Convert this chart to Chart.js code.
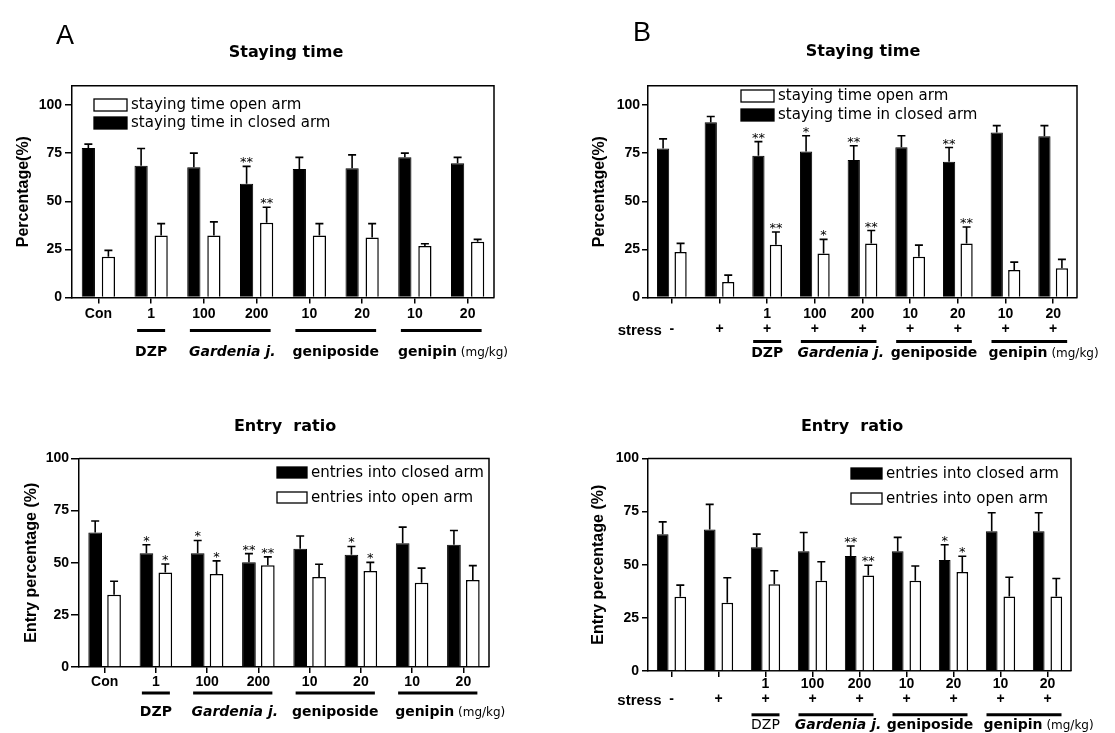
<!DOCTYPE html>
<html>
<head>
<meta charset="utf-8">
<script src="https://cdn.jsdelivr.net/npm/chart.js@4.4.0/dist/chart.umd.min.js"></script>
<style>
  html, body { margin: 0; padding: 0; background: #ffffff; }
  body { width: 1115px; height: 733px; position: relative; overflow: hidden; }
  canvas { position: absolute; left: 0; top: 0; }
</style>
</head>
<body>
<canvas id="cA1" width="1115" height="733"></canvas>
<canvas id="cB1" width="1115" height="733"></canvas>
<canvas id="cA2" width="1115" height="733"></canvas>
<canvas id="cB2" width="1115" height="733"></canvas>
<script>
// ---------------- DATA ----------------
const doseA = ['Con', '1', '100', '200', '10', '20', '10', '20'];
const doseB = ['', '', '1', '100', '200', '10', '20', '10', '20'];
const stressB = ['-', '+', '+', '+', '+', '+', '+', '+', '+'];

const groupNames = ['DZP', 'Gardenia j.', 'geniposide', 'genipin'];
const groupStartA = [1, 2, 4, 6];
const groupEndA = [1, 3, 5, 7];
const groupStartB = [2, 3, 5, 7];
const groupEndB = [2, 4, 6, 8];
const unitLabel = '(mg/kg)';

// Staying time, panel A
const stayA_closed = [77.6, 68.4, 67.6, 59.1, 66.7, 67.2, 72.8, 69.8];
const stayA_closedSem = [2.1, 9.0, 7.4, 9.0, 6.1, 6.9, 2.2, 3.0];
const stayA_open = [21.2, 32.2, 32.2, 38.8, 32.2, 31.2, 26.7, 29.0];
const stayA_openSem = [3.3, 6.2, 7.1, 8.1, 6.2, 7.2, 1.2, 1.2];
const stayA_closedSig = ['', '', '', '**', '', '', '', ''];
const stayA_openSig = ['', '', '', '**', '', '', '', ''];

// Staying time, panel B
const stayB_closed = [77.4, 91.0, 73.6, 75.9, 71.4, 78.1, 70.5, 85.7, 83.8];
const stayB_closedSem = [5.0, 3.0, 7.4, 8.1, 7.4, 5.9, 7.4, 3.6, 5.5];
const stayB_open = [23.6, 8.1, 27.4, 22.9, 28.1, 21.2, 28.1, 14.3, 15.2];
const stayB_openSem = [4.5, 3.5, 6.6, 7.3, 6.7, 6.0, 8.5, 4.1, 4.6];
const stayB_closedSig = ['', '', '**', '*', '**', '', '**', '', ''];
const stayB_openSig = ['', '', '**', '*', '**', '', '**', '', ''];

// Entry ratio, panel A
const entryA_closed = [64.5, 54.6, 54.6, 50.2, 56.7, 53.8, 59.4, 58.6];
const entryA_closedSem = [5.5, 4.0, 6.1, 4.2, 6.1, 4.0, 7.7, 6.9];
const entryA_open = [34.7, 45.3, 44.6, 48.8, 43.2, 46.1, 40.4, 41.7];
const entryA_openSem = [6.4, 4.1, 6.3, 4.0, 6.1, 4.1, 7.0, 6.9];
const entryA_closedSig = ['', '*', '*', '**', '', '*', '', ''];
const entryA_openSig = ['', '*', '*', '**', '', '*', '', ''];

// Entry ratio, panel B
const entryB_closed = [64.4, 66.6, 58.2, 56.3, 54.1, 56.3, 52.2, 65.8, 65.8];
const entryB_closedSem = [5.8, 11.8, 6.2, 8.9, 4.7, 6.6, 7.2, 8.7, 8.7];
const entryB_open = [35.0, 32.1, 40.8, 42.5, 45.0, 42.5, 46.6, 35.1, 35.1];
const entryB_openSem = [5.4, 11.8, 6.4, 8.9, 4.8, 6.9, 7.4, 9.0, 8.4];
const entryB_closedSig = ['', '', '', '', '**', '', '*', '', ''];
const entryB_openSig = ['', '', '', '', '**', '', '*', '', ''];

const yTicks = [0, 25, 50, 75, 100];

// ---------------- DRAWING ----------------
const W = 1115, H = 733;
const SANS = '"Liberation Sans", Arial, sans-serif';
const DJV = '"DejaVu Sans", Verdana, sans-serif';

function makeChart(cfg) {
  const a = cfg.area;
  const padLeft = cfg.titleX - 13.6;
  const yw = a.left - padLeft;
  const xh = 60;
  const padBottom = H - a.bottom - xh;
  const pxPerUnit = (a.bottom - cfg.y100) / 100;
  const top = a.bottom - cfg.yMax * pxPerUnit;

  const labels = cfg.stress ? cfg.dose.map((d, i) => [d, cfg.stress[i]]) : cfg.dose;

  const framePlugin = {
    id: 'frame',
    afterDraw(chart) {
      const ctx = chart.ctx, ca = chart.chartArea;
      ctx.save();
      ctx.strokeStyle = '#000'; ctx.lineWidth = 1.5;
      ctx.beginPath();
      ctx.moveTo(ca.left, ca.top); ctx.lineTo(ca.right, ca.top); ctx.lineTo(ca.right, ca.bottom);
      ctx.stroke();
      ctx.restore();
    }
  };

  const errorPlugin = {
    id: 'errbars',
    afterDatasetsDraw(chart) {
      const ctx = chart.ctx, ys = chart.scales.y;
      ctx.save();
      ctx.strokeStyle = '#000'; ctx.lineWidth = 1.6; ctx.fillStyle = '#000';
      ctx.font = '13px ' + DJV; ctx.textAlign = 'center'; ctx.textBaseline = 'alphabetic';
      chart.data.datasets.forEach((d, di) => {
        const meta = chart.getDatasetMeta(di);
        meta.data.forEach((bar, i) => {
          const yt = ys.getPixelForValue(d.data[i] + d.sem[i]);
          ctx.beginPath();
          ctx.moveTo(bar.x, bar.y); ctx.lineTo(bar.x, yt);
          ctx.moveTo(bar.x - 4, yt); ctx.lineTo(bar.x + 4, yt);
          ctx.stroke();
          if (d.sig[i]) ctx.fillText(d.sig[i], bar.x, yt + cfg.starDy);
        });
      });
      ctx.restore();
    }
  };

  const legendPlugin = {
    id: 'boxlegend',
    afterDraw(chart) {
      const ctx = chart.ctx, L = cfg.legend;
      ctx.save();
      ctx.font = '15px ' + DJV; ctx.textBaseline = 'middle'; ctx.textAlign = 'left';
      L.order.forEach((di, k) => {
        const d = chart.data.datasets[di];
        const y = L.y + k * L.gap;
        ctx.fillStyle = d.backgroundColor;
        ctx.fillRect(L.x, y, L.w, L.h);
        ctx.strokeStyle = '#000'; ctx.lineWidth = 1.3;
        ctx.strokeRect(L.x, y, L.w, L.h);
        ctx.fillStyle = '#000';
        ctx.fillText(d.label, L.x + L.w + 4, y + L.h / 2 + 0.5);
      });
      ctx.restore();
    }
  };

  const groupPlugin = {
    id: 'groups',
    afterDraw(chart) {
      const ctx = chart.ctx, xs = chart.scales.x, ca = chart.chartArea, g = cfg.groups;
      ctx.save();
      ctx.fillStyle = '#000'; ctx.strokeStyle = '#000';
      cfg.groupStart.forEach((s, k) => {
        const x0 = xs.getPixelForValue(s) - 14;
        const x1 = xs.getPixelForValue(cfg.groupEnd[k]) + 14;
        const yl = ca.bottom + g.lineDy;
        ctx.lineWidth = 3;
        ctx.beginPath(); ctx.moveTo(x0, yl); ctx.lineTo(x1, yl); ctx.stroke();
        const yb = ca.bottom + g.labelDy;
        const name = groupNames[k];
        ctx.textBaseline = 'alphabetic';
        if (k === 0) {
          ctx.font = (g.dzpRegular ? '' : 'bold ') + '14px ' + DJV;
          ctx.textAlign = 'center';
          ctx.fillText(name, (x0 + x1) / 2, yb);
        } else if (k === 1) {
          ctx.font = 'italic bold 14px ' + DJV;
          ctx.textAlign = 'center';
          ctx.fillText(name, (x0 + x1) / 2 + 2, yb);
        } else if (k === 2) {
          ctx.font = 'bold 14px ' + DJV;
          ctx.textAlign = 'center';
          ctx.fillText(name, (x0 + x1) / 2, yb);
        } else {
          ctx.font = 'bold 14px ' + DJV;
          ctx.textAlign = 'left';
          ctx.fillText(name, x0 - 3, yb);
          const w = ctx.measureText(name).width;
          ctx.font = '12px ' + DJV;
          ctx.fillText(' ' + unitLabel, x0 - 3 + w, yb);
        }
      });
      if (cfg.stress) {
        ctx.font = 'bold 15px ' + SANS;
        ctx.textAlign = 'right'; ctx.textBaseline = 'alphabetic';
        ctx.fillText('stress', xs.getPixelForValue(0) - 10, ca.bottom + g.stressDy);
      }
      ctx.restore();
    }
  };

  const textPlugin = {
    id: 'texts',
    afterDraw(chart) {
      const ctx = chart.ctx;
      ctx.save();
      ctx.fillStyle = '#000'; ctx.textBaseline = 'alphabetic';
      if (cfg.letter) {
        ctx.font = '27px ' + SANS; ctx.textAlign = 'left';
        ctx.fillText(cfg.letter.text, cfg.letter.x, cfg.letter.y);
      }
      ctx.font = 'bold 16px ' + DJV; ctx.textAlign = 'center';
      ctx.fillText(cfg.title.text, cfg.title.x, cfg.title.y);
      ctx.restore();
    }
  };

  return new Chart(document.getElementById(cfg.id), {
    type: 'bar',
    data: {
      labels: labels,
      datasets: [
        { label: cfg.closedLabel, data: cfg.closed, sem: cfg.closedSem, sig: cfg.closedSig,
          backgroundColor: '#000000', borderColor: '#000000', borderWidth: 1 },
        { label: cfg.openLabel, data: cfg.open, sem: cfg.openSem, sig: cfg.openSig,
          backgroundColor: '#ffffff', borderColor: '#000000', borderWidth: 1.5 }
      ]
    },
    options: {
      responsive: false, animation: false, devicePixelRatio: 1,
      events: [],
      layout: { padding: { left: padLeft, top: top, right: W - a.right, bottom: padBottom } },
      datasets: { bar: { categoryPercentage: cfg.catPct, barPercentage: cfg.barPct } },
      plugins: { legend: { display: false }, tooltip: { enabled: false }, title: { display: false } },
      scales: {
        x: {
          offset: true,
          grid: { display: true, offset: false, drawOnChartArea: false, drawTicks: true,
                  tickLength: 6, color: '#000', lineWidth: 1.5 },
          border: { display: true, color: '#000', width: 1.5 },
          ticks: { color: '#000', autoSkip: false, maxRotation: 0, padding: cfg.tickPad,
                   font: { family: SANS, size: 14, weight: 'bold', lineHeight: cfg.tickLH } },
          afterFit: s => { s.height = xh; }
        },
        y: {
          min: 0, max: cfg.yMax,
          afterBuildTicks: s => { s.ticks = yTicks.map(v => ({ value: v })); },
          ticks: { color: '#000', padding: cfg.yTickPad,
                   font: { family: SANS, size: 14, weight: 'bold' } },
          grid: { drawOnChartArea: false, drawTicks: true, tickLength: cfg.yTickLen, color: '#000', lineWidth: 1.5 },
          border: { display: true, color: '#000', width: 1.5 },
          title: { display: true, text: cfg.yTitle, color: '#000', padding: { top: 4, bottom: 4 },
                   font: { family: SANS, size: 16, weight: 'bold', lineHeight: 1.2 } },
          afterFit: s => { s.width = yw; }
        }
      }
    },
    plugins: [framePlugin, errorPlugin, legendPlugin, groupPlugin, textPlugin]
  });
}

makeChart({
  id: 'cA1', dose: doseA, stress: null,
  closed: stayA_closed, closedSem: stayA_closedSem, closedSig: stayA_closedSig,
  open: stayA_open, openSem: stayA_openSem, openSig: stayA_openSig,
  closedLabel: 'staying time in closed arm', openLabel: 'staying time open arm',
  area: { left: 72, right: 494, bottom: 297.5 }, y100: 105, yMax: 110,
  titleX: 24, yTitle: 'Percentage(%)', yTickLen: 7, yTickPad: 3,
  catPct: 0.76, barPct: 0.66, tickPad: 2, tickLH: 1.2, starDy: 0,
  legend: { order: [1, 0], x: 94, y: 99, w: 33, h: 12, gap: 18 },
  groupStart: groupStartA, groupEnd: groupEndA,
  groups: { lineDy: 33, labelDy: 58.5 },
  letter: { text: 'A', x: 56, y: 44 },
  title: { text: 'Staying time', x: 286, y: 57 }
});

makeChart({
  id: 'cB1', dose: doseB, stress: stressB,
  closed: stayB_closed, closedSem: stayB_closedSem, closedSig: stayB_closedSig,
  open: stayB_open, openSem: stayB_openSem, openSig: stayB_openSig,
  closedLabel: 'staying time in closed arm', openLabel: 'staying time open arm',
  area: { left: 648, right: 1077, bottom: 297.5 }, y100: 105, yMax: 110,
  titleX: 600, yTitle: 'Percentage(%)', yTickLen: 6, yTickPad: 2,
  catPct: 0.734, barPct: 0.70, tickPad: 2.8, tickLH: 1.1, starDy: 0,
  legend: { order: [1, 0], x: 741, y: 90, w: 33, h: 12, gap: 19 },
  groupStart: groupStartB, groupEnd: groupEndB,
  groups: { lineDy: 44, labelDy: 59.5, stressDy: 37 },
  letter: { text: 'B', x: 633, y: 41 },
  title: { text: 'Staying time', x: 863, y: 56 }
});

makeChart({
  id: 'cA2', dose: doseA, stress: null,
  closed: entryA_closed, closedSem: entryA_closedSem, closedSig: entryA_closedSig,
  open: entryA_open, openSem: entryA_openSem, openSig: entryA_openSig,
  closedLabel: 'entries into closed arm', openLabel: 'entries into open arm',
  area: { left: 79, right: 489, bottom: 667 }, y100: 458.5, yMax: 100,
  titleX: 32, yTitle: 'Entry percentage (%)', yTickLen: 8, yTickPad: 2,
  catPct: 0.737, barPct: 0.725, tickPad: 1, tickLH: 1.2, starDy: 0,
  legend: { order: [0, 1], x: 277, y: 467, w: 30, h: 11, gap: 25 },
  groupStart: groupStartA, groupEnd: groupEndA,
  groups: { lineDy: 26, labelDy: 49 },
  letter: null,
  title: { text: 'Entry  ratio', x: 285, y: 431 }
});

makeChart({
  id: 'cB2', dose: doseB, stress: stressB,
  closed: entryB_closed, closedSem: entryB_closedSem, closedSig: entryB_closedSig,
  open: entryB_open, openSem: entryB_openSem, openSig: entryB_openSig,
  closedLabel: 'entries into closed arm', openLabel: 'entries into open arm',
  area: { left: 648, right: 1071, bottom: 671 }, y100: 458.5, yMax: 100,
  titleX: 599, yTitle: 'Entry percentage (%)', yTickLen: 6, yTickPad: 3,
  catPct: 0.749, barPct: 0.665, tickPad: 0, tickLH: 1.07, starDy: 0,
  legend: { order: [0, 1], x: 851, y: 468, w: 31, h: 11, gap: 25 },
  groupStart: groupStartB, groupEnd: groupEndB,
  groups: { lineDy: 43.8, labelDy: 58, stressDy: 33.6, dzpRegular: true },
  letter: null,
  title: { text: 'Entry  ratio', x: 852, y: 431 }
});
</script>
</body>
</html>
